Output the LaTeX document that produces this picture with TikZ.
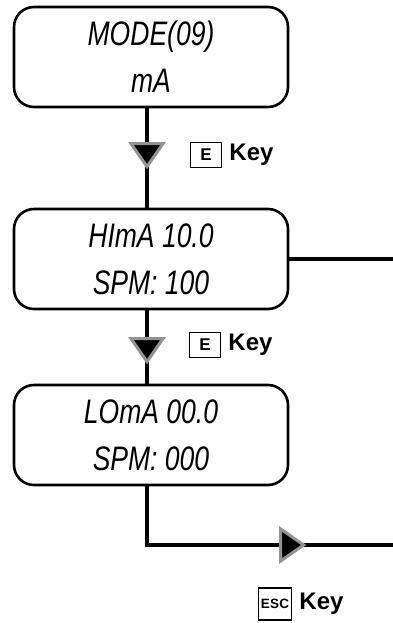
\documentclass[tikz,border=0pt]{standalone}
\usepackage{fontspec}
\usepackage{tikz}
\usetikzlibrary{shapes.geometric,positioning}
\setmainfont{Liberation Sans}
\newfontfamily\lcdfont[FakeStretch=0.78]{Liberation Sans}
\newcommand{\keyname}[1]{{\fontsize{24}{28}\selectfont\bfseries#1}}
\newcommand{\keycap}[1]{{\fontsize{17}{18}\selectfont\bfseries#1}}
\newcommand{\esccap}[1]{{\fontsize{13.5}{18}\selectfont\bfseries\addfontfeature{LetterSpace=2}#1}}

\begin{document}
\begin{tikzpicture}[x=1pt,y=-1pt,
    display/.style={draw, line width=2.6pt, rounded corners=20pt, minimum width=274pt,
        minimum height=100pt, inner sep=0pt, align=center,
        font=\fontsize{34}{47}\selectfont\lcdfont\itshape},
    wire/.style={line width=4pt},
    pointer/.style={isosceles triangle, isosceles triangle stretches, minimum height=23pt,
        minimum width=32pt, inner sep=0pt, fill=black, draw=gray!85, line width=3pt},
    keybox/.style={draw, line width=1.5pt, minimum width=31pt, minimum height=25pt, inner sep=0pt}]
\useasboundingbox (0,0) rectangle (393,623);
\node[display] (mode) at (151,57) {MODE(09)\\mA};
\node[display] (hima) at (151,259) {HImA 10.0\\SPM: 100};
\node[display] (loma) at (151,435) {LOmA 00.0\\SPM: 000};
\coordinate (edge) at (393,0);
\coordinate (bend) at (147,545);
\draw[wire] ([xshift=-4pt]mode.south) -- ([xshift=-4pt]hima.north);
\draw[wire] ([xshift=-4pt]hima.south) -- ([xshift=-4pt]loma.north);
\draw[wire] (hima.east) -- (edge |- hima.east);
\draw[wire] ([xshift=-4pt]loma.south) |- (edge |- bend);
\node[pointer, rotate=-90] (down1) at (147,152) {};
\node[pointer, rotate=-90] (down2) at (147,347) {};
\node[pointer] (right1) at (289,545) {};
\node[keybox] (ekey1) at (206,155) {\keycap{E}};
\node[right=7pt of ekey1, inner sep=0pt] (keylabel1) {\keyname{Key}};
\node[keybox] (ekey2) at (205,345) {\keycap{E}};
\node[right=7pt of ekey2, inner sep=0pt] (keylabel2) {\keyname{Key}};
\node[keybox, minimum width=33pt, minimum height=32pt] (esckey) at (275,604) {\esccap{ESC}};
\node[right=7pt of esckey, inner sep=0pt] (keylabel3) {\keyname{Key}};
\end{tikzpicture}
\end{document}
